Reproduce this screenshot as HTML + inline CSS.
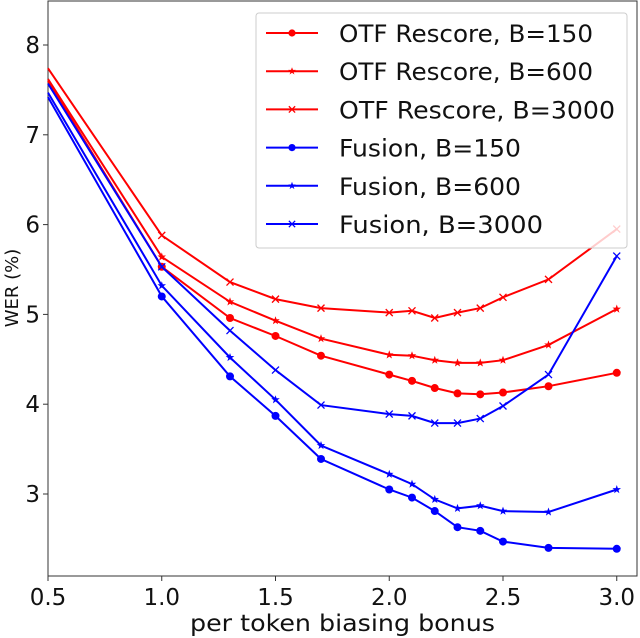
<!DOCTYPE html>
<html><head><meta charset="utf-8"><style>
html,body{margin:0;padding:0;background:#fff;}
svg{display:block;font-family:"DejaVu Sans","Liberation Sans",sans-serif;}
</style></head><body>
<svg id="chart" width="640" height="638">
<rect x="48" y="1" width="589" height="575" fill="#fff" stroke="#333" stroke-width="1"/>
<g id="axes"></g>
<g id="series"></g>
<g id="legend"></g>
</svg>
<script>
const xVals = [0.5,1.0,1.3,1.5,1.7,2.0,2.1,2.2,2.3,2.4,2.5,2.7,3.0];
const otf150 = [7.60,5.53,4.96,4.76,4.54,4.33,4.26,4.18,4.12,4.11,4.13,4.20,4.35];
const otf600 = [7.62,5.64,5.14,4.93,4.73,4.55,4.54,4.49,4.46,4.46,4.49,4.66,5.06];
const otf3000 = [7.74,5.88,5.36,5.17,5.07,5.02,5.04,4.96,5.02,5.07,5.19,5.39,5.95];
const fus150 = [7.42,5.20,4.31,3.87,3.39,3.05,2.96,2.81,2.63,2.59,2.47,2.40,2.39];
const fus600 = [7.47,5.32,4.52,4.05,3.54,3.22,3.11,2.94,2.84,2.87,2.81,2.80,3.05];
const fus3000 = [7.57,5.53,4.82,4.38,3.99,3.89,3.87,3.79,3.79,3.84,3.98,4.33,5.65];
const xTicks = ["0.5","1.0","1.5","2.0","2.5","3.0"];
const yTicks = ["3","4","5","6","7","8"];
const seriesNames = ["OTF Rescore, B=150","OTF Rescore, B=600","OTF Rescore, B=3000","Fusion, B=150","Fusion, B=600","Fusion, B=3000"];

const NS="http://www.w3.org/2000/svg";
function X(v){return 48+(v-0.5)*227.5;}
function Y(v){return 45+(8-v)*89.8;}
function mk(tag,attrs,parent){const e=document.createElementNS(NS,tag);for(const k in attrs)e.setAttribute(k,attrs[k]);parent.appendChild(e);return e;}
const axes=document.getElementById('axes');
xTicks.forEach(t=>{const v=parseFloat(t);
 const l=mk('line',{x1:X(v),x2:X(v),y1:576,y2:581,stroke:'#333'},axes);
 
 
 const tx=mk('text',{x:X(v),y:605,'text-anchor':'middle','font-size':23,fill:'#111'},axes);tx.textContent=t;
 
 
});
yTicks.forEach(t=>{const v=parseFloat(t);
 const l=mk('line',{x1:43,x2:48,y1:Y(v),y2:Y(v),stroke:'#333'},axes);
 
 
 const tx=mk('text',{x:40,y:Y(v)+8,'text-anchor':'end','font-size':23,fill:'#111'},axes);tx.textContent=t;
 
 
});
const xl=mk('text',{x:190,y:631,'font-size':23,fill:'#111',textLength:305,lengthAdjust:'spacingAndGlyphs'},axes);xl.textContent='per token biasing bonus';


const yl=mk('text',{x:0,y:0,'text-anchor':'middle','font-size':18,fill:'#111',transform:'translate(18,288) rotate(-90)'},axes);yl.textContent='WER (%)';



const data=[otf150,otf600,otf3000,fus150,fus600,fus3000];
const colors=['#ff0000','#ff0000','#ff0000','#0000ff','#0000ff','#0000ff'];
const markers=['dot','star','x','dot','star','x'];
const legendWidths=[254,254,276,182,182,204];
function marker(type,cx,cy,c,parent,s){
 let e;
 if(type==='dot'){e=mk('circle',{cx:cx,cy:cy,r:4*s,fill:c},parent);}
 else if(type==='star'){let p=[];for(let i=0;i<10;i++){const r=i%2?1.8*s:4.5*s;const a=-Math.PI/2+i*Math.PI/5;p.push((cx+r*Math.cos(a)).toFixed(1)+','+(cy+r*Math.sin(a)).toFixed(1));}
  e=mk('polygon',{points:p.join(' '),fill:c},parent);}
 else{const d=3.5*s;e=mk('path',{d:`M${cx-d},${cy-d}L${cx+d},${cy+d}M${cx-d},${cy+d}L${cx+d},${cy-d}`,stroke:c,'stroke-width':1.3,fill:'none'},parent);}
 return e;
}
const sg=document.getElementById('series');
data.forEach((arr,i)=>{
 const g=mk('g',{},sg);
 
 
 const pts=arr.map((v,j)=>X(xVals[j]).toFixed(1)+','+Y(v).toFixed(1)).join(' ');
 const pl=mk('polyline',{points:pts,fill:'none',stroke:colors[i],'stroke-width':2},g);
 
 
 arr.forEach((v,j)=>{ if(j===0) return;
  const m=marker(markers[i],X(xVals[j]),Y(v),colors[i],g,1);
  
  
 });
});
const lg=document.getElementById('legend');
const box=mk('rect',{x:256,y:13,width:371,height:235,rx:3,fill:'#fff','fill-opacity':0.8,stroke:'#ccc'},lg);


seriesNames.forEach((n,i)=>{
 const y=33+i*38.2;
 const g=mk('g',{},lg);
 
 
 mk('line',{x1:266,x2:318,y1:y,y2:y,stroke:colors[i],'stroke-width':2},g);
 marker(markers[i],292,y,colors[i],g,0.9);
 const t=mk('text',{x:339,y:y+9,'font-size':24,fill:'#111',textLength:legendWidths[i],lengthAdjust:'spacingAndGlyphs'},g);t.textContent=n;
});
</script>
</body></html>
